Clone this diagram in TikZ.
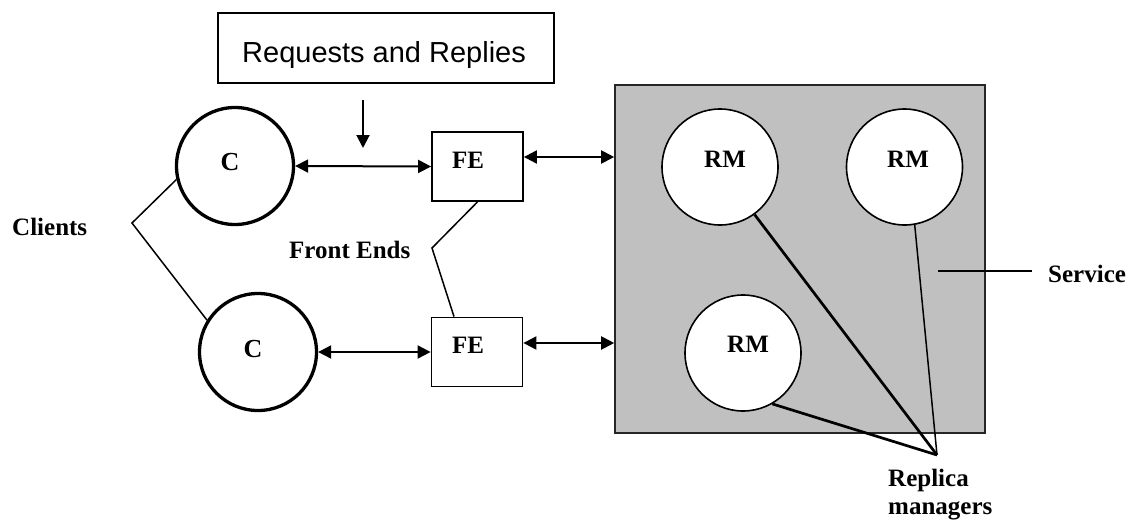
\documentclass[tikz,border=0pt]{standalone}
\usepackage{fontspec}
\setmainfont{Liberation Serif}
\newfontfamily\arialfont{Liberation Sans}
\usetikzlibrary{arrows.meta}
\definecolor{svcgray}{RGB}{192,192,192}
\begin{document}
\begin{tikzpicture}[x=1pt,y=-1pt,
  >={Triangle[length=13pt,width=13pt]},
  lbl/.style={font=\fontsize{25}{28}\selectfont\bfseries, inner sep=0pt},
  clbl/.style={font=\fontsize{26}{30}\selectfont\bfseries, inner sep=0pt},
  client/.style={circle, draw, line width=3.3pt, minimum size=117pt, inner sep=0pt},
  febox/.style={rectangle, draw, line width=1.8pt, minimum width=91pt, minimum height=69pt, inner sep=0pt},
  rmnode/.style={circle, draw, fill=white, line width=1.6pt, minimum size=116pt, inner sep=0pt},
  dbl/.style={line width=2pt, <->},
  one/.style={line width=2pt, ->},
  thinline/.style={line width=1.5pt},
  thickline/.style={line width=2.7pt},
]
\clip (0,0) rectangle (1135,522);
\fill[white] (0,0) rectangle (1135,522);

% Requests and Replies box
\node[draw, line width=1.8pt, minimum width=336pt, minimum height=70pt, inner sep=0pt] (req) at (386,48) {};
\node[anchor=base west, inner sep=0pt, font=\arialfont\fontsize{29}{33}\selectfont] (reqtxt) at (242,62) {Requests and Replies};
\coordinate (arrtop) at (363,100);
\coordinate (arrtip) at (363,148);
\draw[one] (arrtop) -- (arrtip);

% Service box with replica managers
\node[draw=black!85, line width=1.6pt, fill=svcgray, minimum width=370pt, minimum height=348pt, inner sep=0pt] (svc) at (800,259) {};
\node[rmnode] (rm1) at (720,167) {};
\node[rmnode] (rm2) at (904.5,167) {};
\node[rmnode] (rm3) at (743,353) {};
\node[lbl, anchor=base west] (rm1t) at (704,167) {RM};
\node[lbl, anchor=base west] (rm2t) at (887,167) {RM};
\node[lbl, anchor=base west] (rm3t) at (727,352) {RM};

% Clients
\node[client] (c1) at (235,166) {};
\node[client] (c2) at (258,352) {};
\node[clbl, anchor=base] (c1t) at (230,170) {C};
\node[clbl, anchor=base] (c2t) at (253,357) {C};

% Front ends
\node[febox] (fe1) at (477.5,166.5) {};
\node[febox] (fe2) at (477,352) {};
\node[lbl, anchor=base west] (fe1t) at (452,168) {FE};
\node[lbl, anchor=base west] (fe2t) at (452,353) {FE};

% Connectors
\draw[dbl] (c1.east) -- (fe1.west);
\draw[dbl] (c2.east) -- (fe2.west);
\coordinate (a1) at ([yshift=9.5pt]fe1.east);
\draw[dbl] (a1) -- (svc.west |- a1);
\coordinate (a2) at ([yshift=9pt]fe2.east);
\draw[dbl] (a2) -- (svc.west |- a2);

% Labels and pointer lines
\node[lbl, anchor=base west] (clients) at (12,235) {Clients};
\coordinate (ck) at (132,223);
\draw[thinline] (c1.193) -- (ck) -- (c2.148);

\node[lbl, anchor=base west] (fends) at (289,258) {Front Ends};
\coordinate (fk) at (432,248);
\draw[thinline] (fe1.south) -- (fk) -- ([xshift=-23pt]fe2.north);

\node[lbl, anchor=base west] (svclbl) at (1048,282) {Service};
\coordinate (sp) at (938,271);
\draw[line width=1.8pt, shorten >=16pt] (sp) -- (sp -| svclbl.west);

\node[lbl, anchor=north west, align=left] (rmlbl) at (888,469) {Replica\\managers};
\coordinate (conv) at (937,455);
\draw[thickline] (rm1.-54) -- (conv);
\draw[thinline] (rm2.-80) -- (conv);
\draw[thickline] (rm3.-60) -- (conv);
\end{tikzpicture}
\end{document}
